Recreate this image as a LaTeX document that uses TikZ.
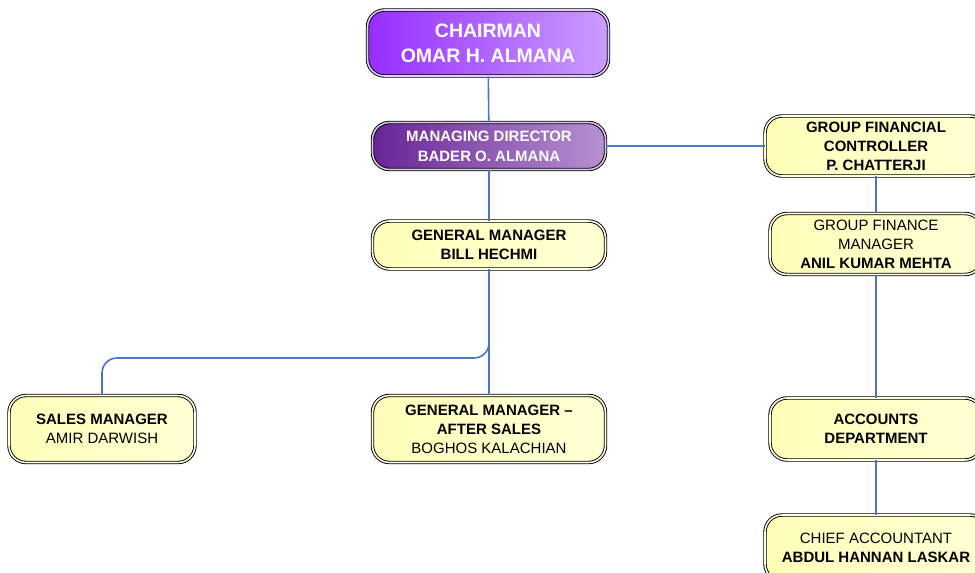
\documentclass[tikz,border=0pt]{standalone}
\usepackage{fontspec}
\setmainfont{Liberation Sans}
\usepackage{tikz}
\usetikzlibrary{positioning,calc}

\definecolor{linkblue}{RGB}{74,118,196}
\definecolor{boxyellow}{RGB}{255,255,185}
\definecolor{boxlight}{RGB}{255,255,230}
\definecolor{chairdark}{RGB}{150,45,255}
\definecolor{chairlight}{RGB}{225,205,255}
\definecolor{mddark}{RGB}{105,35,150}
\definecolor{mdlight}{RGB}{215,195,235}

\begin{document}
\begin{tikzpicture}[x=1pt,y=-1pt,
	box/.style={draw=black,line width=0.9pt,double distance=1.6pt,rounded corners=17pt,
		align=center,inner sep=0pt,font=\fontsize{15}{19}\selectfont},
	yellowbox/.style={box,double=boxlight,left color=boxyellow,right color=boxlight!60!boxyellow},
	link/.style={draw=linkblue,line width=1.6pt}]
	\useasboundingbox (0,0) rectangle (975,573);

	\node[box,double=chairlight,left color=chairdark,right color=chairlight!70!chairdark,text=white,
		minimum width=241pt,minimum height=66pt,font=\fontsize{19.5}{25}\selectfont\bfseries]
		(chair) at (488,43) {CHAIRMAN\\OMAR H. ALMANA};
	\node[box,double=mdlight,left color=mddark,right color=mdlight!70!mddark,text=white,
		minimum width=233pt,minimum height=47pt,font=\fontsize{15}{20}\selectfont\bfseries]
		(md) at (489,146) {MANAGING DIRECTOR\\BADER O. ALMANA};

	\node[yellowbox,minimum width=233pt,minimum height=48pt] (gm) at (489,245)
		{\textbf{GENERAL MANAGER}\\\textbf{BILL HECHMI}};
	\node[yellowbox,minimum width=186pt,minimum height=67pt] (sales) at (102,429)
		{\textbf{SALES MANAGER}\\AMIR DARWISH};
	\node[yellowbox,minimum width=233pt,minimum height=67pt] (after) at (489,429)
		{\textbf{GENERAL MANAGER –}\\\textbf{AFTER SALES}\\BOGHOS KALACHIAN};

	\node[yellowbox,minimum width=222pt,minimum height=60pt] (gfc) at (876,146)
		{\textbf{GROUP FINANCIAL}\\\textbf{CONTROLLER}\\\textbf{P. CHATTERJI}};
	\node[yellowbox,minimum width=212pt,minimum height=61pt] (gfm) at (876,244)
		{GROUP FINANCE\\MANAGER\\\textbf{ANIL KUMAR MEHTA}};
	\node[yellowbox,minimum width=212pt,minimum height=62pt] (acc) at (876,429)
		{\textbf{ACCOUNTS}\\\textbf{DEPARTMENT}};
	\node[yellowbox,minimum width=222pt,minimum height=66pt] (chief) at (876,548)
		{CHIEF ACCOUNTANT\\\textbf{ABDUL HANNAN LASKAR}};

	% connectors
	\coordinate (bend) at (102,358);
	\draw[link] (chair) -- (md);
	\draw[link] (md) -- (gfc);
	\draw[link] (md) -- (gm);
	\draw[link] (gm) -- (after);
	\draw[link,rounded corners=15pt] (gm.south) |- (bend) -- (sales.north);
	\draw[link] (gfc) -- (gfm);
	\draw[link] (gfm) -- (acc);
	\draw[link] (acc) -- (chief);
\end{tikzpicture}
\end{document}
